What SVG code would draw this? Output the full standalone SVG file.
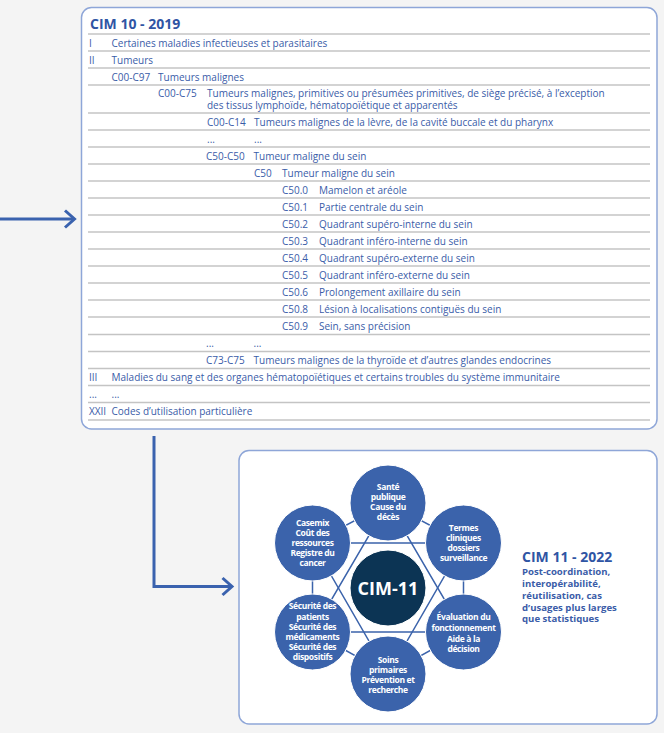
<svg xmlns="http://www.w3.org/2000/svg" width="664" height="733" viewBox="0 0 664 733">
<defs>
<style>
.bg{fill:#f4f4f4}
.box{fill:#ffffff;stroke:#8ea6d8;stroke-width:1.5}
.rl{stroke:#c4c4c4;stroke-width:1.6}
.t{font-family:"Open Sans","Noto Sans","DejaVu Sans",sans-serif;font-size:10px;fill:#3a5ca8}
.title{font-family:"Open Sans","Noto Sans","DejaVu Sans",sans-serif;font-size:14px;font-weight:bold;fill:#2f55a4}
.arr{fill:none;stroke:#3a62ae;stroke-width:3;stroke-linejoin:miter}
.web{stroke:#3b63ab;stroke-width:1.5;fill:none}
.node{fill:#3b63ab;stroke:#ffffff;stroke-width:1}
.core{fill:#0c3454;stroke:#ffffff;stroke-width:1}
.nt{font-family:"Open Sans","Noto Sans","DejaVu Sans",sans-serif;font-size:8.5px;font-weight:bold;fill:#ffffff;text-anchor:middle;letter-spacing:-0.35px}
.ct{font-family:"Open Sans","Noto Sans","DejaVu Sans",sans-serif;font-size:18px;font-weight:bold;fill:#ffffff;text-anchor:middle}
.d{font-family:"Open Sans","Noto Sans","DejaVu Sans",sans-serif;font-size:9.6px;font-weight:bold;fill:#3a5ca8}
</style>
</defs>
<rect class="bg" x="0" y="0" width="664" height="733"/>

<g id="connectors">
<path class="arr" d="M0 219 H74"/>
<path class="arr" d="M65 210.5 L74.5 219 L65 227.5"/>
<path class="arr" d="M154 436 V586.5 H231"/>
<path class="arr" d="M222.5 578 L232 586.5 L222.5 595"/>
</g>

<g id="cim10">
<rect class="box" x="81.5" y="7.5" width="575.5" height="421.5" rx="10"/>
<text class="title" x="90" y="29">CIM 10 - 2019</text>
<g>
<line class="rl" x1="88" y1="34" x2="650" y2="34"/>
<line class="rl" x1="88" y1="51" x2="650" y2="51"/>
<line class="rl" x1="88" y1="68" x2="650" y2="68"/>
<line class="rl" x1="88" y1="85" x2="650" y2="85"/>
<line class="rl" x1="88" y1="113" x2="650" y2="113"/>
<line class="rl" x1="88" y1="130" x2="650" y2="130"/>
<line class="rl" x1="88" y1="147" x2="650" y2="147"/>
<line class="rl" x1="88" y1="164" x2="650" y2="164"/>
<line class="rl" x1="88" y1="181" x2="650" y2="181"/>
<line class="rl" x1="88" y1="198" x2="650" y2="198"/>
<line class="rl" x1="88" y1="215" x2="650" y2="215"/>
<line class="rl" x1="88" y1="232" x2="650" y2="232"/>
<line class="rl" x1="88" y1="249" x2="650" y2="249"/>
<line class="rl" x1="88" y1="266" x2="650" y2="266"/>
<line class="rl" x1="88" y1="283" x2="650" y2="283"/>
<line class="rl" x1="88" y1="300" x2="650" y2="300"/>
<line class="rl" x1="88" y1="317" x2="650" y2="317"/>
<line class="rl" x1="88" y1="334.5" x2="650" y2="334.5"/>
<line class="rl" x1="88" y1="351.5" x2="650" y2="351.5"/>
<line class="rl" x1="88" y1="368.5" x2="650" y2="368.5"/>
<line class="rl" x1="88" y1="385.5" x2="650" y2="385.5"/>
<line class="rl" x1="88" y1="402.5" x2="650" y2="402.5"/>
<line class="rl" x1="88" y1="420" x2="650" y2="420"/>
</g>
<text class="t" x="89" y="46.5">I</text><text class="t" x="111.5" y="46.5">Certaines maladies infectieuses et parasitaires</text>
<text class="t" x="89" y="63.5">II</text><text class="t" x="111.5" y="63.5">Tumeurs</text>
<text class="t" x="111.5" y="80.5">C00-C97</text><text class="t" x="158" y="80.5">Tumeurs malignes</text>
<text class="t" x="158" y="96.5">C00-C75</text><text class="t" x="207" y="96.5">Tumeurs malignes, primitives ou présumées primitives, de siège précisé, à l’exception</text>
<text class="t" x="207" y="108.5">des tissus lymphoïde, hématopoïétique et apparentés</text>
<text class="t" x="207" y="125.5">C00-C14</text><text class="t" x="254" y="125.5">Tumeurs malignes de la lèvre, de la cavité buccale et du pharynx</text>
<text class="t" x="207" y="142.5">...</text><text class="t" x="254" y="142.5">...</text>
<text class="t" x="206" y="159.5">C50-C50</text><text class="t" x="253.5" y="159.5">Tumeur maligne du sein</text>
<text class="t" x="254" y="176.5">C50</text><text class="t" x="282" y="176.5">Tumeur maligne du sein</text>
<text class="t" x="282" y="193.5">C50.0</text><text class="t" x="319" y="193.5">Mamelon et aréole</text>
<text class="t" x="282" y="210.5">C50.1</text><text class="t" x="319" y="210.5">Partie centrale du sein</text>
<text class="t" x="282" y="227.5">C50.2</text><text class="t" x="319" y="227.5">Quadrant supéro-interne du sein</text>
<text class="t" x="282" y="244.5">C50.3</text><text class="t" x="319" y="244.5">Quadrant inféro-interne du sein</text>
<text class="t" x="282" y="261.5">C50.4</text><text class="t" x="319" y="261.5">Quadrant supéro-externe du sein</text>
<text class="t" x="282" y="278.5">C50.5</text><text class="t" x="319" y="278.5">Quadrant inféro-externe du sein</text>
<text class="t" x="282" y="295.5">C50.6</text><text class="t" x="319" y="295.5">Prolongement axillaire du sein</text>
<text class="t" x="282" y="312.5">C50.8</text><text class="t" x="319" y="312.5">Lésion à localisations contiguës du sein</text>
<text class="t" x="282" y="329.5">C50.9</text><text class="t" x="319" y="329.5">Sein, sans précision</text>
<text class="t" x="206" y="346.5">...</text><text class="t" x="253.5" y="346.5">...</text>
<text class="t" x="206" y="363.5">C73-C75</text><text class="t" x="253.5" y="363.5">Tumeurs malignes de la thyroïde et d’autres glandes endocrines</text>
<text class="t" x="89" y="380.5">III</text><text class="t" x="111.5" y="380.5">Maladies du sang et des organes hématopoïétiques et certains troubles du système immunitaire</text>
<text class="t" x="89" y="397.5">...</text><text class="t" x="111.5" y="397.5">...</text>
<text class="t" x="89" y="414.5">XXII</text><text class="t" x="111.5" y="414.5">Codes d’utilisation particulière</text>
</g>

<g id="cim11">
<rect class="box" x="239" y="450.5" width="418" height="273.5" rx="10"/>
<g id="web">
<polygon class="web" points="388,503 463.5,543 463.5,632 388,674 312.5,632 312.5,543"/>
<polygon class="web" points="388,503 463.5,632 312.5,632"/>
<polygon class="web" points="312.5,543 463.5,543 388,674"/>
</g>
<g id="n-core"><circle class="core" cx="388" cy="588" r="38"/><text class="ct" x="388" y="595">CIM-11</text></g>
<g id="n-sante"><circle class="node" cx="388" cy="503" r="38"/>
<text class="nt" x="388" y="490">Santé</text><text class="nt" x="388" y="500">publique</text><text class="nt" x="388" y="510">Cause du</text><text class="nt" x="388" y="520">décès</text></g>
<g id="n-casemix"><circle class="node" cx="312.5" cy="543" r="38"/>
<text class="nt" x="312.5" y="526">Casemix</text><text class="nt" x="312.5" y="536">Coût des</text><text class="nt" x="312.5" y="546">ressources</text><text class="nt" x="312.5" y="556">Registre du</text><text class="nt" x="312.5" y="566">cancer</text></g>
<g id="n-termes"><circle class="node" cx="463.5" cy="543" r="38"/>
<text class="nt" x="463.5" y="531">Termes</text><text class="nt" x="463.5" y="541">cliniques</text><text class="nt" x="463.5" y="551">dossiers</text><text class="nt" x="463.5" y="561">surveillance</text></g>
<g id="n-securite"><circle class="node" cx="312.5" cy="632" r="38"/>
<text class="nt" x="312.5" y="609">Sécurité des</text><text class="nt" x="312.5" y="619.5">patients</text><text class="nt" x="312.5" y="629.5">Sécurité des</text><text class="nt" x="312.5" y="639.5">médicaments</text><text class="nt" x="312.5" y="649.5">Sécurité des</text><text class="nt" x="312.5" y="659.5">dispositifs</text></g>
<g id="n-evaluation"><circle class="node" cx="463.5" cy="632" r="38"/>
<text class="nt" x="463.5" y="620">Évaluation du</text><text class="nt" x="463.5" y="631">fonctionnement</text><text class="nt" x="463.5" y="642">Aide à la</text><text class="nt" x="463.5" y="652">décision</text></g>
<g id="n-soins"><circle class="node" cx="388" cy="674" r="38"/>
<text class="nt" x="388" y="663">Soins</text><text class="nt" x="388" y="673">primaires</text><text class="nt" x="388" y="683">Prévention et</text><text class="nt" x="388" y="693">recherche</text></g>
<g id="cim11-text">
<text class="title" x="522" y="561.5">CIM 11 - 2022</text>
<text class="d" x="522" y="574.5">Post-coordination,</text>
<text class="d" x="522" y="586.5">interopérabilité,</text>
<text class="d" x="522" y="598.5">réutilisation, cas</text>
<text class="d" x="522" y="610.5">d’usages plus larges</text>
<text class="d" x="522" y="622">que statistiques</text>
</g>
</g>
</svg>
